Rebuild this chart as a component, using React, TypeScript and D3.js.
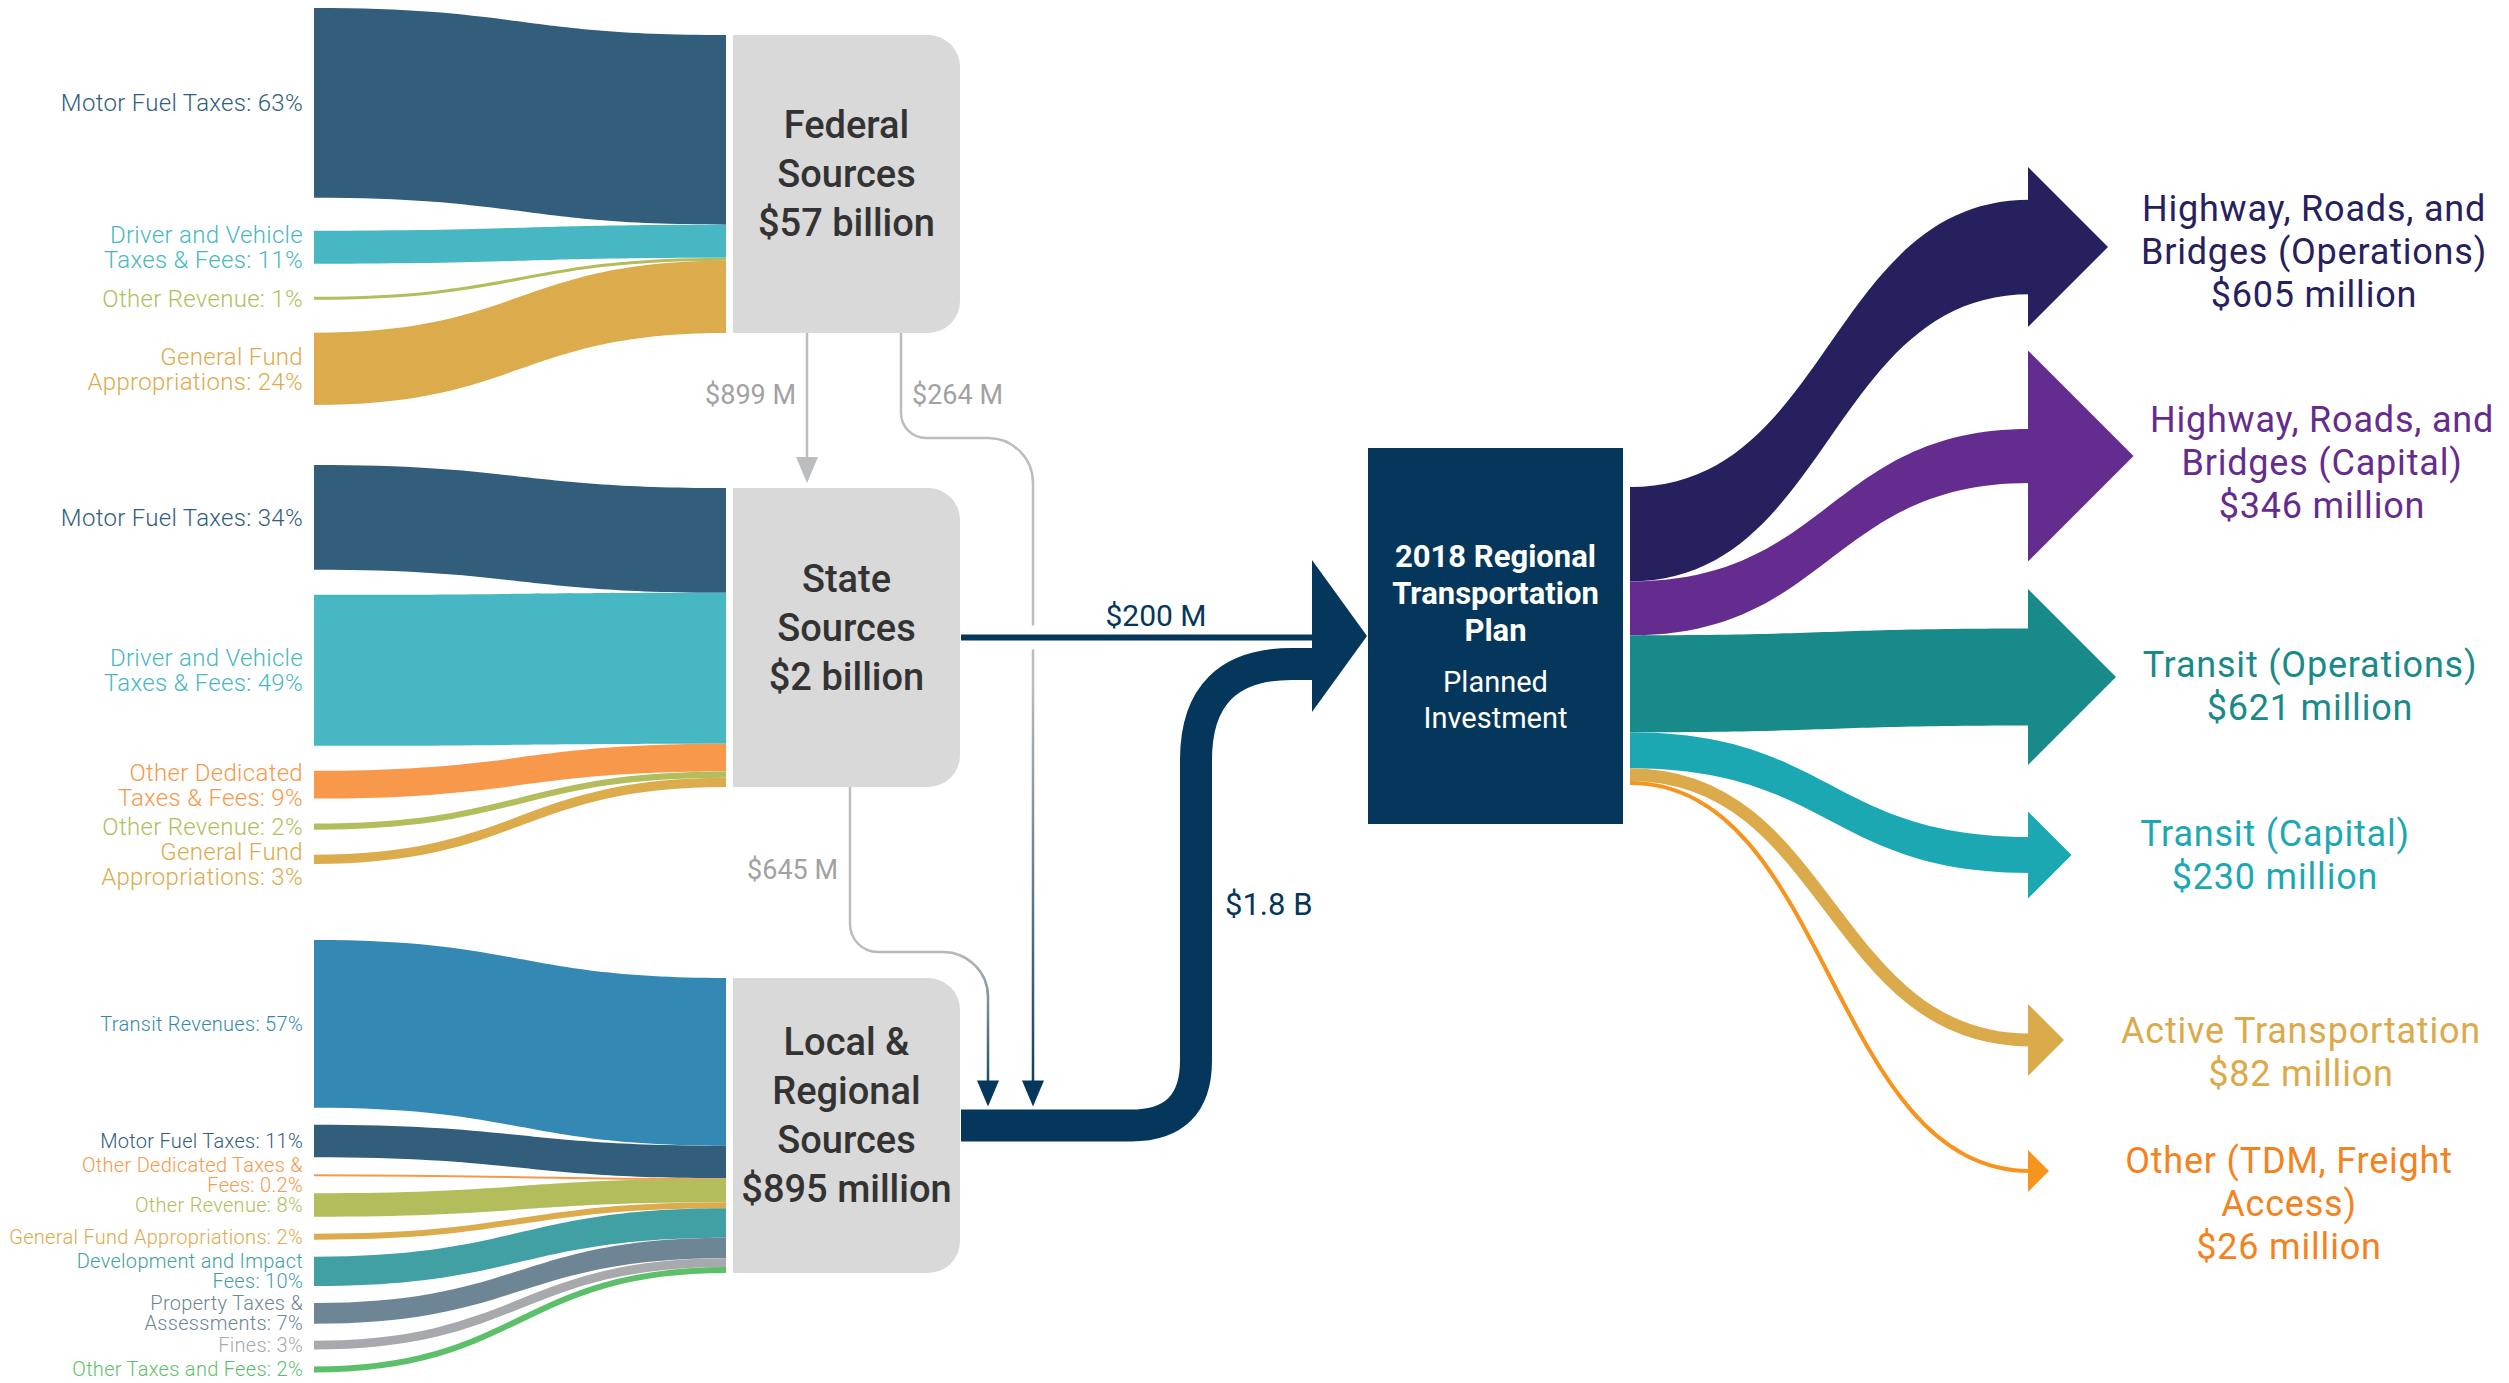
import React from "react";
import * as d3 from "d3";

const federalCategories = [
  ["Motor Fuel Taxes: 63%"],
  ["Driver and Vehicle", "Taxes & Fees: 11%"],
  ["Other Revenue: 1%"],
  ["General Fund", "Appropriations: 24%"],
];
const federalShares = [63, 11, 1, 24];

const stateCategories = [
  ["Motor Fuel Taxes: 34%"],
  ["Driver and Vehicle", "Taxes & Fees: 49%"],
  ["Other Dedicated", "Taxes & Fees: 9%"],
  ["Other Revenue: 2%"],
  ["General Fund", "Appropriations: 3%"],
];
const stateShares = [34, 49, 9, 2, 3];

const localCategories = [
  ["Transit Revenues: 57%"],
  ["Motor Fuel Taxes: 11%"],
  ["Other Dedicated Taxes &", "Fees: 0.2%"],
  ["Other Revenue: 8%"],
  ["General Fund Appropriations: 2%"],
  ["Development and Impact", "Fees: 10%"],
  ["Property Taxes &", "Assessments: 7%"],
  ["Fines: 3%"],
  ["Other Taxes and Fees: 2%"],
];
const localShares = [57, 11, 0.2, 8, 2, 10, 7, 3, 2];

const sourceTitles = [
  ["Federal", "Sources", "$57 billion"],
  ["State", "Sources", "$2 billion"],
  ["Local &", "Regional", "Sources", "$895 million"],
];

const transferLabels = ["$899 M", "$264 M", "$645 M", "$200 M", "$1.8 B"];

const planTitle = ["2018 Regional", "Transportation", "Plan"];
const planSubtitle = ["Planned", "Investment"];

const investmentNames = [
  ["Highway, Roads, and", "Bridges (Operations)"],
  ["Highway, Roads, and", "Bridges (Capital)"],
  ["Transit (Operations)"],
  ["Transit (Capital)"],
  ["Active Transportation"],
  ["Other (TDM, Freight", "Access)"],
];
const investmentValues = [605, 346, 621, 230, 82, 26];

// ---- styles ----
const FONT = "Roboto, 'Open Sans', sans-serif";
const NAVY = "#04375b";
const GRAY_BOX = "#d9d9d9";
const GRAY_LINE = "#bcbdbf";
const GRAY_TEXT = "#a2a2a2";
const C = {
  motor: "#325d7b",
  driver: "#47b8c3",
  otherRev: "#b4bd5b",
  general: "#dcab4b",
  otherDed: "#f7984a",
  transit: "#3389b3",
  dev: "#41a0a3",
  property: "#6e8596",
  fines: "#a7a9ac",
  otherTax: "#5cbf6a",
};
const outColors = ["#27205e", "#652c8f", "#198a8a", "#1ca8b3", "#dbaa4a", "#f7941e"];
const outTextColors = ["#27205e", "#652c8f", "#198a8a", "#1ca8b3", "#dbaa4a", "#f58220"];

// ---- layout ----
const W = 2509;
const H = 1383;
const srcX0 = 314;
const srcX1 = 726;
const boxX = 733;
const boxW = 227;
const labelX = 303;

const groups = [
  { cats: federalCategories, shares: federalShares, colors: [C.motor, C.driver, C.otherRev, C.general],
    boxTop: 35, boxH: 298, leftTop: 8, gap: 33, fs: 24, lh: 25 },
  { cats: stateCategories, shares: stateShares, colors: [C.motor, C.driver, C.otherDed, C.otherRev, C.general],
    boxTop: 488, boxH: 299, leftTop: 465, gap: 25, fs: 24, lh: 25 },
  { cats: localCategories, shares: localShares,
    colors: [C.transit, C.motor, C.otherDed, C.otherRev, C.general, C.dev, C.property, C.fines, C.otherTax],
    boxTop: 978, boxH: 295, leftTop: 940, gap: 17, fs: 20, lh: 20 },
];

const rtp = { x: 1368, y: 448, w: 255, h: 376 };
const outX0 = 1630;
const headX = 2028;
const outTipY = [247, 456, 677, 855, 1040, 1171];
const outHeadH = [160, 211, 176, 87, 72, 42];
const outLabelX = [2314, 2322, 2310, 2275, 2301, 2289];
const outLabelY = [251, 462, 686, 855, 1052, 1203];

function bandPath(x0: number, y0: number, x1: number, y1: number, t: number) {
  const p = d3.path();
  const xm = (x0 + x1) / 2;
  p.moveTo(x0, y0);
  p.bezierCurveTo(xm, y0, xm, y1, x1, y1);
  p.lineTo(x1, y1 + t);
  p.bezierCurveTo(xm, y1 + t, xm, y0 + t, x0, y0 + t);
  p.closePath();
  return p.toString();
}

const link = d3.linkHorizontal<any, [number, number]>().source((d: any) => d[0]).target((d: any) => d[1]);

function boxPath(x: number, y: number, w: number, h: number, r: number) {
  const p = d3.path();
  p.moveTo(x, y);
  p.lineTo(x + w - r, y);
  p.arcTo(x + w, y, x + w, y + r, r);
  p.lineTo(x + w, y + h - r);
  p.arcTo(x + w, y + h, x + w - r, y + h, r);
  p.lineTo(x, y + h);
  p.closePath();
  return p.toString();
}

function elbow(x0: number, y0: number, yMid: number, x1: number, y1: number, r1: number, r2: number) {
  const p = d3.path();
  p.moveTo(x0, y0);
  p.arcTo(x0, yMid, x0 + r1, yMid, r1);
  p.arcTo(x1, yMid, x1, yMid + r2, r2);
  p.lineTo(x1, y1);
  return p.toString();
}

function downHead(x: number, tipY: number, w: number, h: number) {
  return `M${x - w / 2},${tipY - h}L${x + w / 2},${tipY - h}L${x},${tipY}Z`;
}

const Lines = ({ lines, x, cy, lh, anchor = "middle", ...rest }: any) => {
  const y0 = cy - ((lines.length - 1) * lh) / 2;
  return (
    <text textAnchor={anchor} fontFamily={FONT} {...rest}>
      {lines.map((l: string, i: number) => (
        <tspan key={i} x={x} y={y0 + i * lh} dy="0.35em">
          {l}
        </tspan>
      ))}
    </text>
  );
};

export default function App() {
  // source sankey bands
  const stacked = groups.map((g) => {
    const total = d3.sum(g.shares);
    const h = d3.scaleLinear().domain([0, total]).range([0, g.boxH]);
    let yL = g.leftTop;
    let yR = g.boxTop;
    let labelBottom = -Infinity;
    return g.shares.map((s, i) => {
      const t = Math.max(2, h(s));
      const lines = g.cats[i];
      const half = (lines.length * g.lh) / 2;
      // label centred on its band, nudged down if it would collide with the previous one
      const cy = Math.max(yL + t / 2, labelBottom + half);
      labelBottom = cy + half;
      const b = { yL, yR, t, cy, color: g.colors[i], lines, fs: g.fs, lh: g.lh };
      yL += t + g.gap;
      yR += h(s);
      return b;
    });
  });

  const boxCY = groups.map((g) => g.boxTop + g.boxH / 2);
  const fedBottom = groups[0].boxTop + groups[0].boxH;
  const stateTop = groups[1].boxTop;
  const stateBottom = groups[1].boxTop + groups[1].boxH;
  const boxRight = boxX + boxW;

  // output sankey
  const outTotal = d3.sum(investmentValues);
  const outScale = d3.scaleLinear().domain([0, outTotal]).range([0, 298]);
  const rtpCY = rtp.y + rtp.h / 2;
  let oy = rtpCY - outScale(outTotal) / 2;
  const outs = investmentValues.map((v, i) => {
    const t = outScale(v);
    const o = { y0: oy, t, tipY: outTipY[i], hh: outHeadH[i] };
    oy += t;
    return o;
  });

  // connectors
  const bigBand = 32;
  const localCY = boxCY[2];
  const tipDown = localCY - bigBand / 2 - 3;
  const c899x = boxX + 74;
  const c264x = boxX + 168;
  const c645x = boxX + 117;
  const join264x = 1033;
  const join645x = 988;
  const vx = 1196;
  const headBaseX = rtp.x - 56;
  const intoY = 664;

  const bigPath = (() => {
    const p = d3.path();
    p.moveTo(boxRight + 1, localCY);
    p.lineTo(vx - 65, localCY);
    p.quadraticCurveTo(vx, localCY, vx, localCY - 65);
    p.lineTo(vx, intoY + 96);
    p.quadraticCurveTo(vx, intoY, vx + 96, intoY);
    p.lineTo(headBaseX + 6, intoY);
    return p.toString();
  })();

  return (
    <svg width={W} height={H} style={{ position: "absolute", left: 0, top: 0, background: "#fff" }}>
      <defs>
        <linearGradient id="g264" gradientUnits="userSpaceOnUse" x1={0} y1={fedBottom} x2={0} y2={tipDown}>
          <stop offset="0.45" stopColor={GRAY_LINE} />
          <stop offset="1" stopColor={NAVY} />
        </linearGradient>
        <linearGradient id="g645" gradientUnits="userSpaceOnUse" x1={0} y1={stateBottom} x2={0} y2={tipDown}>
          <stop offset="0.5" stopColor={GRAY_LINE} />
          <stop offset="1" stopColor={NAVY} />
        </linearGradient>
      </defs>

      {/* source bands and labels */}
      {stacked.map((bands, gi) => (
        <g key={gi}>
          {bands.map((b, i) =>
            b.t >= 15 ? (
              <path key={i} d={bandPath(srcX0, b.yL, srcX1, b.yR, b.t)} fill={b.color} />
            ) : (
              <path
                key={i}
                d={link([[srcX0, b.yL + b.t / 2], [srcX1, b.yR + b.t / 2]]) as string}
                fill="none"
                stroke={b.color}
                strokeWidth={b.t}
              />
            )
          )}
          {bands.map((b, i) => (
            <Lines
              key={"l" + i}
              lines={b.lines}
              x={labelX}
              cy={b.cy}
              lh={b.lh}
              anchor="end"
              fontSize={b.fs}
              fontWeight={300}
              letterSpacing={0.3}
              fill={b.color}
            />
          ))}
        </g>
      ))}

      {/* source boxes */}
      {groups.map((g, i) => (
        <g key={"box" + i}>
          <path d={boxPath(boxX, g.boxTop, boxW, g.boxH, 32)} fill={GRAY_BOX} />
          <Lines
            lines={sourceTitles[i]}
            x={boxX + boxW / 2}
            cy={boxCY[i] - 10}
            lh={49}
            fontSize={38}
            fontWeight={500}
            fill="#333333"
          />
        </g>
      ))}

      {/* federal -> state */}
      <line x1={c899x} y1={fedBottom} x2={c899x} y2={stateTop - 28} stroke={GRAY_LINE} strokeWidth={2.5} />
      <path d={downHead(c899x, stateTop - 5, 22, 26)} fill={GRAY_LINE} />
      <text x={c899x - 11} y={395} dy="0.35em" textAnchor="end" fontFamily={FONT} fontSize={27} fill={GRAY_TEXT}>
        {transferLabels[0]}
      </text>

      {/* federal -> local */}
      <path d={elbow(c264x, fedBottom, 438, join264x, tipDown - 22, 25, 45)} fill="none" stroke="url(#g264)" strokeWidth={2.5} />
      <path d={downHead(join264x, tipDown, 22, 26)} fill={NAVY} />
      <text x={c264x + 11} y={395} dy="0.35em" fontFamily={FONT} fontSize={27} fill={GRAY_TEXT}>
        {transferLabels[1]}
      </text>

      {/* state -> local */}
      <path d={elbow(c645x, stateBottom, 952, join645x, tipDown - 22, 28, 45)} fill="none" stroke="url(#g645)" strokeWidth={2.5} />
      <path d={downHead(join645x, tipDown, 22, 26)} fill={NAVY} />
      <text x={c645x - 12} y={870} dy="0.35em" textAnchor="end" fontFamily={FONT} fontSize={27} fill={GRAY_TEXT}>
        {transferLabels[2]}
      </text>

      {/* state -> plan */}
      <line x1={boxRight + 1} y1={boxCY[1]} x2={headBaseX + 4} y2={boxCY[1]} stroke="#fff" strokeWidth={24} />
      <line x1={boxRight + 1} y1={boxCY[1]} x2={headBaseX + 4} y2={boxCY[1]} stroke={NAVY} strokeWidth={6} />
      <text x={1156} y={615} dy="0.35em" textAnchor="middle" fontFamily={FONT} fontSize={30} fill={NAVY}>
        {transferLabels[3]}
      </text>

      {/* local -> plan */}
      <path d={bigPath} fill="none" stroke={NAVY} strokeWidth={bigBand} />
      <path d={`M${headBaseX},${rtpCY - 76}L${rtp.x - 1},${rtpCY}L${headBaseX},${rtpCY + 76}Z`} fill={NAVY} />
      <text x={vx + 29} y={904} dy="0.35em" fontFamily={FONT} fontSize={31} fill={NAVY}>
        {transferLabels[4]}
      </text>

      {/* plan box */}
      <rect x={rtp.x} y={rtp.y} width={rtp.w} height={rtp.h} fill={NAVY} />
      <Lines lines={planTitle} x={rtp.x + rtp.w / 2} cy={593} lh={37} fontSize={31} fontWeight={700} fill="#fff" />
      <Lines lines={planSubtitle} x={rtp.x + rtp.w / 2} cy={700} lh={36} fontSize={29} fontWeight={400} fill="#fff" />

      {/* outputs */}
      {outs.map((o, i) => {
        const hl = o.hh / 2;
        const tipX = headX + hl;
        const head = `M${headX},${o.tipY - o.hh / 2}L${tipX},${o.tipY}L${headX},${o.tipY + o.hh / 2}Z`;
        return (
          <g key={"o" + i}>
            {o.t >= 30 ? (
              <path d={bandPath(outX0, o.y0, headX + 2, o.tipY - o.t / 2, o.t)} fill={outColors[i]} />
            ) : (
              <path
                d={link([[outX0, o.y0 + o.t / 2], [headX + 2, o.tipY]]) as string}
                fill="none"
                stroke={outColors[i]}
                strokeWidth={o.t}
              />
            )}
            <path d={head} fill={outColors[i]} />
          </g>
        );
      })}
      {investmentNames.map((n, i) => (
        <Lines
          key={"ol" + i}
          lines={[...n, `$${investmentValues[i]} million`]}
          x={outLabelX[i]}
          cy={outLabelY[i]}
          lh={43}
          fontSize={36}
          fontWeight={400}
          letterSpacing={0.8}
          fill={outTextColors[i]}
        />
      ))}
    </svg>
  );
}
